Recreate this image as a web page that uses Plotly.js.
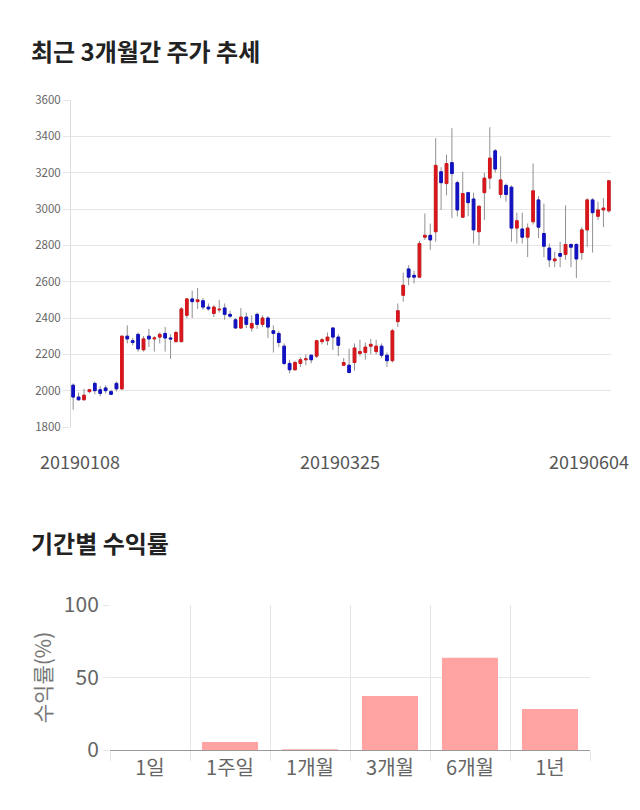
<!DOCTYPE html>
<html>
<head>
<meta charset="utf-8">
<script src="https://cdn.plot.ly/plotly-3.0.1.min.js"></script>
<style>
  html, body { margin: 0; padding: 0; background: #fff; }
  #chart { width: 640px; height: 810px; }
</style>
</head>
<body>
<div id="chart"></div>
<script>
const dates = [
  '20190108','20190109','20190110','20190111','20190114','20190115','20190116','20190117','20190118','20190121',
  '20190122','20190123','20190124','20190125','20190128','20190129','20190130','20190131','20190201','20190207',
  '20190208','20190211','20190212','20190213','20190214','20190215','20190218','20190219','20190220','20190221',
  '20190222','20190225','20190226','20190227','20190228','20190304','20190305','20190306','20190307','20190308',
  '20190311','20190312','20190313','20190314','20190315','20190318','20190319','20190320','20190321','20190322',
  '20190325','20190326','20190327','20190328','20190329','20190401','20190402','20190403','20190404','20190405',
  '20190408','20190409','20190410','20190411','20190412','20190415','20190416','20190417','20190418','20190419',
  '20190422','20190423','20190424','20190425','20190426','20190429','20190430','20190502','20190503','20190507',
  '20190508','20190509','20190510','20190513','20190514','20190515','20190516','20190517','20190520','20190521',
  '20190522','20190523','20190524','20190527','20190528','20190529','20190530','20190531','20190603','20190604'
];
const openP = [
  2030,1965,1950,1995,2040,2005,2015,1995,2040,2010,
  2300,2275,2310,2225,2300,2285,2295,2315,2290,2270,
  2270,2415,2505,2490,2495,2460,2425,2445,2455,2420,
  2390,2345,2405,2345,2420,2365,2400,2330,2315,2245,
  2150,2115,2150,2170,2195,2190,2270,2275,2345,2295,
  2140,2140,2155,2205,2210,2245,2215,2245,2195,2165,
  2380,2525,2670,2635,2625,2845,2855,2875,3205,3140,
  3255,3145,2955,3090,3055,2875,3090,3170,3320,3080,
  3130,3120,2895,2890,2845,2930,3050,2865,2785,2715,
  2755,2750,2805,2805,2760,2885,3050,2960,2995,2990
];
const highP = [
  2040,1990,2010,2010,2050,2025,2030,2005,2050,2300,
  2360,2290,2320,2300,2340,2300,2320,2350,2310,2330,
  2460,2510,2550,2565,2510,2480,2470,2500,2480,2440,
  2400,2455,2430,2415,2430,2415,2410,2360,2330,2260,
  2170,2165,2185,2200,2200,2280,2290,2320,2350,2310,
  2180,2230,2260,2280,2265,2285,2280,2260,2210,2340,
  2480,2650,2690,2660,2825,2975,2920,3390,3230,3300,
  3445,3155,3205,3095,3090,3020,3200,3450,3330,3290,
  3140,3130,2980,2980,2920,3250,3070,3030,2810,2765,
  2820,3020,2810,2810,2900,3060,3060,3040,3060,3160
];
const lowP = [
  1895,1945,1945,1985,1980,1970,1985,1975,1995,2005,
  2260,2250,2215,2215,2240,2215,2260,2215,2175,2265,
  2265,2400,2400,2450,2445,2440,2405,2430,2390,2400,
  2340,2340,2345,2325,2340,2350,2290,2210,2240,2140,
  2095,2110,2130,2140,2150,2180,2255,2250,2225,2190,
  2135,2095,2110,2190,2170,2200,2200,2180,2130,2155,
  2350,2490,2580,2590,2620,2830,2775,2820,2995,3075,
  2950,2960,2950,2960,2810,2800,2940,3110,3200,3060,
  3040,2820,2810,2810,2735,2915,2840,2735,2680,2680,
  2680,2720,2680,2620,2720,2790,2760,2940,2900,2980
];
const closeP = [
  1965,1950,1975,2005,2000,1985,2000,1980,2010,2300,
  2285,2265,2230,2285,2285,2290,2310,2290,2285,2320,
  2450,2505,2490,2500,2460,2450,2460,2448,2420,2410,
  2345,2405,2365,2370,2365,2400,2350,2315,2265,2150,
  2115,2155,2170,2175,2170,2275,2280,2295,2295,2250,
  2155,2100,2235,2215,2240,2255,2245,2195,2165,2330,
  2440,2580,2625,2625,2810,2855,2830,3240,3145,3250,
  3195,2995,3085,3035,2885,3015,3170,3280,3220,3160,
  3080,2895,2935,2845,2895,3100,2900,2795,2720,2725,
  2740,2805,2790,2725,2885,3050,2980,2995,3005,3155
];
const periods = ['1일','1주일','1개월','3개월','6개월','1년'];
const returns = [0, 5.5, 0.6, 37.3, 63.6, 28.2];

const dateLabels = ['20190108', '20190325', '20190604'];

const RED = '#d9161c';
const BLUE = '#1212c4';
const FONT = '"Noto Sans CJK KR", "Noto Sans", sans-serif';

const bodyHigh = openP.map((o, i) => Math.max(o, closeP[i]));
const bodyLow = openP.map((o, i) => Math.min(o, closeP[i]));

const wicks = {
  type: 'candlestick', x: dates, open: openP, high: highP, low: lowP, close: closeP,
  xaxis: 'x', yaxis: 'y',
  increasing: { line: { color: '#909090', width: 1 }, fillcolor: '#909090' },
  decreasing: { line: { color: '#909090', width: 1 }, fillcolor: '#909090' },
  hoverinfo: 'skip', showlegend: false
};
const bodies = {
  type: 'candlestick', x: dates, open: openP, high: bodyHigh, low: bodyLow, close: closeP,
  xaxis: 'x', yaxis: 'y',
  increasing: { line: { color: RED, width: 1 }, fillcolor: RED },
  decreasing: { line: { color: BLUE, width: 1 }, fillcolor: BLUE },
  hoverinfo: 'skip', showlegend: false
};
const bars = {
  type: 'bar', x: periods, y: returns, xaxis: 'x2', yaxis: 'y2',
  width: 0.7,
  marker: { color: '#ffa3a3', line: { width: 0 } },
  hoverinfo: 'skip', showlegend: false
};

const H = 810, W = 640;
const labelFont = { family: FONT, size: 18, color: '#555' };
const titleFont = { family: FONT, size: 24, color: '#222' };
const annotations = [
  { text: '<b>최근 3개월간 주가 추세</b>', xref: 'paper', yref: 'paper', x: 29 / W, y: 1 - 50 / H,
    xanchor: 'left', yanchor: 'middle', showarrow: false, font: titleFont },
  { text: '<b>기간별 수익률</b>', xref: 'paper', yref: 'paper', x: 29 / W, y: 1 - 542 / H,
    xanchor: 'left', yanchor: 'middle', showarrow: false, font: titleFont },
  { text: dateLabels[0], xref: 'x', yref: 'paper', x: dates.indexOf(dateLabels[0]), y: 1 - 461 / H, xshift: 7,
    xanchor: 'center', yanchor: 'middle', showarrow: false, font: labelFont },
  { text: dateLabels[1], xref: 'x', yref: 'paper', x: dates.indexOf(dateLabels[1]), y: 1 - 461 / H, xshift: -4,
    xanchor: 'center', yanchor: 'middle', showarrow: false, font: labelFont },
  { text: dateLabels[2], xref: 'x', yref: 'paper', x: dates.indexOf(dateLabels[2]), y: 1 - 461 / H, xshift: 22,
    xanchor: 'right', yanchor: 'middle', showarrow: false, font: labelFont }
];

const layout = {
  width: W, height: H,
  margin: { l: 0, r: 0, t: 0, b: 0 },
  paper_bgcolor: '#fff', plot_bgcolor: '#fff',
  font: { family: FONT, color: '#666' },
  boxmode: 'overlay',
  showlegend: false,
  xaxis: {
    type: 'category', domain: [71 / W, 611 / W], anchor: 'y',
    range: [-0.4, 99.4], rangeslider: { visible: false },
    showgrid: false, showticklabels: false, ticks: '', showline: false, zeroline: false, fixedrange: true
  },
  yaxis: {
    domain: [1 - 427 / H, 1 - 100 / H], anchor: 'x',
    range: [1800, 3600], tickvals: [1800, 2000, 2200, 2400, 2600, 2800, 3000, 3200, 3400, 3600],
    showgrid: true, gridcolor: '#e6e6e6', gridwidth: 1,
    ticks: 'outside', ticklen: 7, tickcolor: '#e6e6e6',
    showline: true, linecolor: '#dcdcdc', linewidth: 1, zeroline: false,
    tickfont: { family: FONT, size: 11.5, color: '#666' }, fixedrange: true
  },
  xaxis2: {
    type: 'category', domain: [110 / W, 590 / W], anchor: 'y2',
    tickson: 'boundaries', showgrid: true, gridcolor: '#e6e6e6',
    ticks: 'outside', ticklen: 10, tickcolor: '#e6e6e6',
    showline: true, linecolor: '#999', linewidth: 1, zeroline: false,
    tickfont: { family: FONT, size: 20, color: '#666' }, fixedrange: true
  },
  yaxis2: {
    domain: [1 - 750 / H, 1 - 605 / H], anchor: 'x2',
    range: [0, 100], tickvals: [0, 50, 100],
    showgrid: true, gridcolor: '#e6e6e6',
    ticks: 'outside', ticklen: 6, tickcolor: '#e6e6e6',
    showline: false, zeroline: false,
    tickfont: { family: FONT, size: 21, color: '#666' },
    title: { text: '수익률(%)', font: { family: FONT, size: 21, color: '#777' }, standoff: 6 },
    fixedrange: true
  },
  annotations: annotations
};

Plotly.newPlot('chart', [wicks, bodies, bars], layout, { displayModeBar: false, staticPlot: true });
</script>
</body>
</html>
